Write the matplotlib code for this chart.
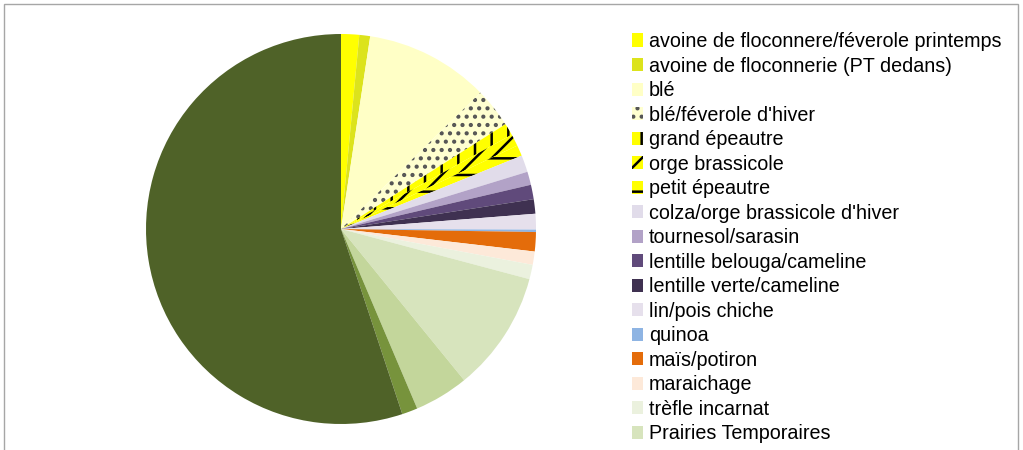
import matplotlib
matplotlib.use("Agg")
import matplotlib.pyplot as plt
from matplotlib.patches import Rectangle

plt.rcParams['font.family'] = ['Liberation Sans', 'DejaVu Sans']
plt.rcParams['hatch.linewidth'] = 1.8

labels = ["avoine de floconnere/féverole printemps", "avoine de floconnerie (PT dedans)",
          "blé", "blé/féverole d'hiver", "grand épeautre", "orge brassicole",
          "petit épeautre", "colza/orge brassicole d'hiver", "tournesol/sarasin",
          "lentille belouga/cameline", "lentille verte/cameline", "lin/pois chiche",
          "quinoa", "maïs/potiron", "maraichage", "trèfle incarnat",
          "Prairies Temporaires", "autre 1", "autre 2", "autre 3"]
values = [1.5, 0.9, 10.3, 3.3, 1.0, 1.0, 0.9, 1.4, 1.1, 1.2, 1.2, 1.3,
          0.2, 1.6, 1.1, 1.2, 10.0, 4.5, 1.3, 55.2]
colors = ["#FFFF00", "#DCE31C", "#FFFFC6", "#FFFFD0", "#FFFF00", "#FFFF00",
          "#FFFF00", "#E1DCEA", "#B2A2C7", "#604A7B", "#3F3151", "#E6E0EC",
          "#8EB4E3", "#E46C0A", "#FDE9D9", "#EBF1DE", "#D7E4BD", "#C3D69B",
          "#77933C", "#4F6228"]
hatches = [None, None, None, "..", "|", "//", "-", None, None, None, None, None,
           None, None, None, None, None, None, None, None]
hatch_colors = [None, None, None, "#555555", "black", "black", "black"] + [None] * 13
n_legend = 17

fig = plt.figure(figsize=(10.23, 4.5), dpi=100)
fig.patches.append(Rectangle((4 / 1023, -0.1), 1014 / 1023, 1.1 - 4 / 450,
                             transform=fig.transFigure, fill=False,
                             edgecolor="#A6A6A6", linewidth=1.0))

cx, cy, r = 341, 229, 195
ax = fig.add_axes([(cx - r) / 1023, (450 - cy - r) / 450, 2 * r / 1023, 2 * r / 450])
wedges, _ = ax.pie(values, colors=colors, startangle=90, counterclock=False,
                   radius=1.0, wedgeprops=dict(linewidth=0))
for w, h, hc in zip(wedges, hatches, hatch_colors):
    if h:
        w.set_hatch(h)
        w.set_edgecolor(hc)
        w.set_linewidth(0)
ax.set_xlim(-1, 1)
ax.set_ylim(-1, 1)
ax.set_aspect('equal')
ax.axis('off')

fig.legend(wedges[:n_legend], labels[:n_legend], loc="upper left",
           bbox_to_anchor=(632 / 1023, 1 - 32 / 450), frameon=False,
           fontsize=14.2, handlelength=0.55, handleheight=0.65, handletextpad=0.3,
           labelspacing=0.28, borderaxespad=0, borderpad=0)

fig.savefig("out.png", dpi=100)
